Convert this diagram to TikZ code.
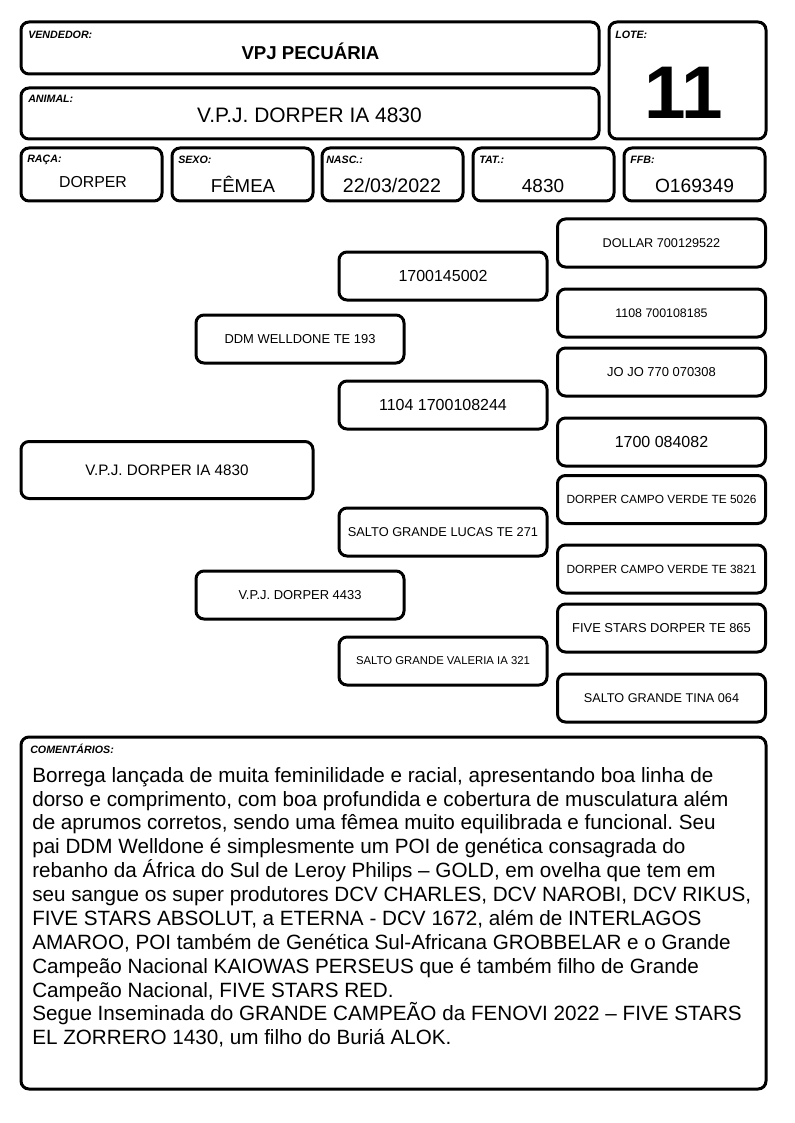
\documentclass[tikz,border=0pt]{standalone}
\usepackage{fontspec}
\setmainfont{Liberation Sans}
\frenchspacing
\newcommand{\sz}[1]{\fontsize{#1}{#1}\selectfont}
\tikzset{
  frame/.style={line width=2.25pt, rounded corners=6pt},
  tag/.style={anchor=base west, inner sep=0pt, font=\bfseries\itshape\sz{8}},
  val/.style={anchor=base, inner sep=0pt},
  ped/.style={draw, line width=2.25pt, rounded corners=6pt, minimum width=156pt, minimum height=36pt, inner sep=0pt},
}

\begin{document}
\begin{tikzpicture}[x=0.75pt,y=-0.75pt]
\useasboundingbox (0,0) rectangle (794,1123);
\draw[frame] (21,22) rectangle (599,74);
\draw[frame] (609,22) rectangle (766,139);
\draw[frame] (21,88) rectangle (599,139);
\draw[frame] (21,148) rectangle (162,201);
\draw[frame] (172,148) rectangle (313,201);
\draw[frame] (322,148) rectangle (463,201);
\draw[frame] (473,148) rectangle (614,201);
\draw[frame] (624,148) rectangle (765,201);
\draw[frame] (21,737) rectangle (766,1089);
\node[tag] (vendtag) at (28,39) {VENDEDOR:};
\node[val, font=\bfseries\sz{14}] (vend) at (310.5,60) {VPJ PECUÁRIA};
\node[tag] (lotetag) at (615,39) {LOTE:};
\node[val, font=\bfseries\sz{56}] (lote) at (683.5,119) {11};
\node[tag] (animaltag) at (28,103) {ANIMAL:};
\node[val, font=\sz{15.7}] (animal) at (309.5,123) {V.P.J. DORPER IA 4830};
\node[tag] (racatag) at (27,163) {RAÇA:};
\node[val, font=\sz{11.9}] (raca) at (93,188) {DORPER};
\node[tag] (sexotag) at (178,164) {SEXO:};
\node[val, font=\sz{14}] (sexo) at (243,193) {FÊMEA};
\node[tag] (nasctag) at (326,164) {NASC.:};
\node[val, font=\sz{14.7}] (nasc) at (392,193) {22/03/2022};
\node[tag] (tattag) at (479,164) {TAT.:};
\node[val, font=\sz{14.2}] (tat) at (543,193) {4830};
\node[tag] (ffbtag) at (630,164) {FFB:};
\node[val, font=\sz{14.4}] (ffb) at (694.5,193) {O169349};
\node[ped, minimum width=219pt, minimum height=42.75pt, font=\sz{11.4}] (self) at (167,470) {V.P.J. DORPER IA 4830};
\node[ped, font=\sz{9.7}] (sire) at (300,339) {DDM WELLDONE TE 193};
\node[ped, font=\sz{9.7}] (dam) at (300,595) {V.P.J. DORPER 4433};
\node[ped, font=\sz{12}] (ss) at (443,276) {1700145002};
\node[ped, font=\sz{12}] (sd) at (443,405) {1104 1700108244};
\node[ped, font=\sz{9.6}] (ds) at (443,532) {SALTO GRANDE LUCAS TE 271};
\node[ped, font=\sz{8.5}] (dd) at (443,661) {SALTO GRANDE VALERIA IA 321};
\node[ped, font=\sz{9.5}] (sss) at (661.5,243) {DOLLAR 700129522};
\node[ped, font=\sz{9.3}] (ssd) at (661.5,313) {1108 700108185};
\node[ped, font=\sz{9.7}] (sds) at (661.5,372) {JO JO 770 070308};
\node[ped, font=\sz{12}] (sdd) at (661.5,442) {1700 084082};
\node[ped, font=\sz{8.9}] (dss) at (661.5,499.5) {DORPER CAMPO VERDE TE 5026};
\node[ped, font=\sz{8.9}] (dsd) at (661.5,569) {DORPER CAMPO VERDE TE 3821};
\node[ped, font=\sz{9.7}] (dds) at (661.5,628) {FIVE STARS DORPER TE 865};
\node[ped, font=\sz{9.5}] (ddd) at (661.5,698) {SALTO GRANDE TINA 064};
\node[tag] (comtag) at (30,753) {COMENTÁRIOS:};
\node[anchor=north west, inner sep=0pt, align=left, font=\fontsize{15.5}{17.9}\selectfont] (com) at (32,767) {Borrega lançada de muita feminilidade e racial, apresentando boa linha de\\
dorso e comprimento, com boa profundida e cobertura de musculatura além\\
de aprumos corretos, sendo uma fêmea muito equilibrada e funcional. Seu\\
pai DDM Welldone é simplesmente um POI de genética consagrada do\\
rebanho da África do Sul de Leroy Philips – GOLD, em ovelha que tem em\\
seu sangue os super produtores DCV CHARLES, DCV NAROBI, DCV RIKUS,\\
FIVE STARS ABSOLUT, a ETERNA - DCV 1672, além de INTERLAGOS\\
AMAROO, POI também de Genética Sul-Africana GROBBELAR e o Grande\\
Campeão Nacional KAIOWAS PERSEUS que é também filho de Grande\\
Campeão Nacional, FIVE STARS RED.\\
Segue Inseminada do GRANDE CAMPEÃO da FENOVI 2022 – FIVE STARS\\
EL ZORRERO 1430, um filho do Buriá ALOK.};
\end{tikzpicture}
\end{document}
